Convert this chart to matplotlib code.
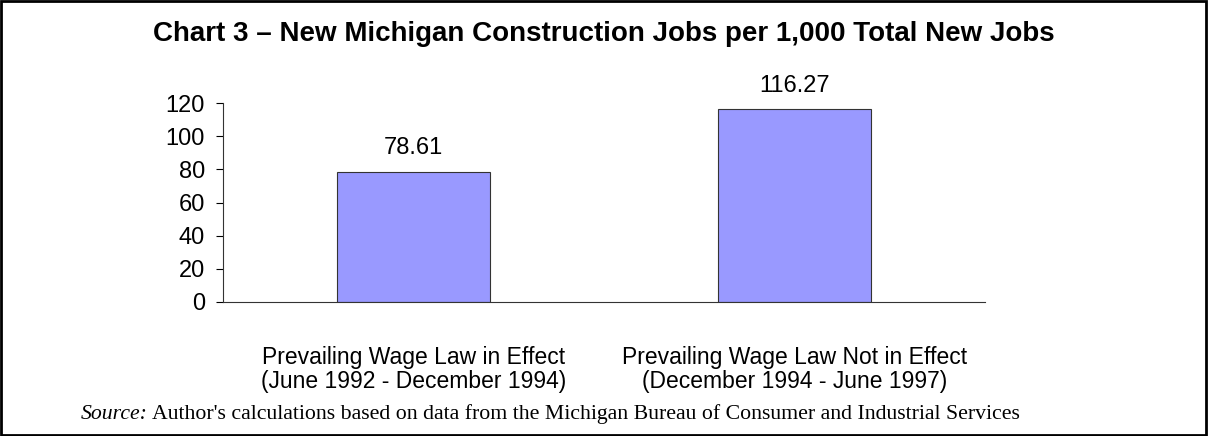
import matplotlib.pyplot as plt
from matplotlib.patches import Rectangle

categories = ["Prevailing Wage Law in Effect\n(June 1992 - December 1994)",
              "Prevailing Wage Law Not in Effect\n(December 1994 - June 1997)"]
values = [78.61, 116.27]
value_labels = ["78.61", "116.27"]
y_ticks = [0, 20, 40, 60, 80, 100, 120]
title = "Chart 3 \u2013 New Michigan Construction Jobs per 1,000 Total New Jobs"
source_note = "Author's calculations based on data from the Michigan Bureau of Consumer and Industrial Services"

plt.rcParams['font.family'] = ['Liberation Sans', 'DejaVu Sans']

W, H = 1208, 436
fig = plt.figure(figsize=(W / 100, H / 100), dpi=100)
ax = fig.add_axes([223 / W, 1 - 302 / H, (985 - 223) / W, (302 - 103) / H])

x = list(range(len(categories)))
ax.bar(x, values, width=0.4, color='#9999FF', edgecolor='#333333', linewidth=0.8)

for xi, v, lab in zip(x, values, value_labels):
    ax.annotate(lab, (xi, v), xytext=(0, 9), textcoords='offset points',
                ha='center', va='bottom', fontsize=17)

ax.set_xlim(-0.5, 1.5)
ax.set_ylim(0, 120)
ax.set_yticks(y_ticks)
ax.tick_params(axis='y', labelsize=17, length=5, width=0.8, direction='out', pad=8)
ax.set_xticks(x)
ax.set_xticklabels(categories, fontsize=16.5, linespacing=1.05)
ax.tick_params(axis='x', length=0, pad=32)
for side in ['top', 'right']:
    ax.spines[side].set_visible(False)
ax.spines['left'].set_color('#333333')
ax.spines['bottom'].set_color('#333333')

fig.text(0.5, 1 - 34 / H, title, ha='center', va='center', fontsize=20, fontweight='bold')

# source line: italic label followed by plain text
t1 = fig.text(81 / W, 1 - 414 / H, "Source:", fontsize=15.7, style='italic',
              family='Liberation Serif', va='center')
fig.canvas.draw()
bb = t1.get_window_extent()
fig.text((bb.x1 + 4) / W, 1 - 414 / H, source_note,
         fontsize=15.7, family='Liberation Serif', va='center')

fig.patches.append(Rectangle((0.001, 0.002), 0.997, 0.995, transform=fig.transFigure,
                             fill=False, edgecolor='black', linewidth=2))

fig.savefig('out.png', dpi=100)
